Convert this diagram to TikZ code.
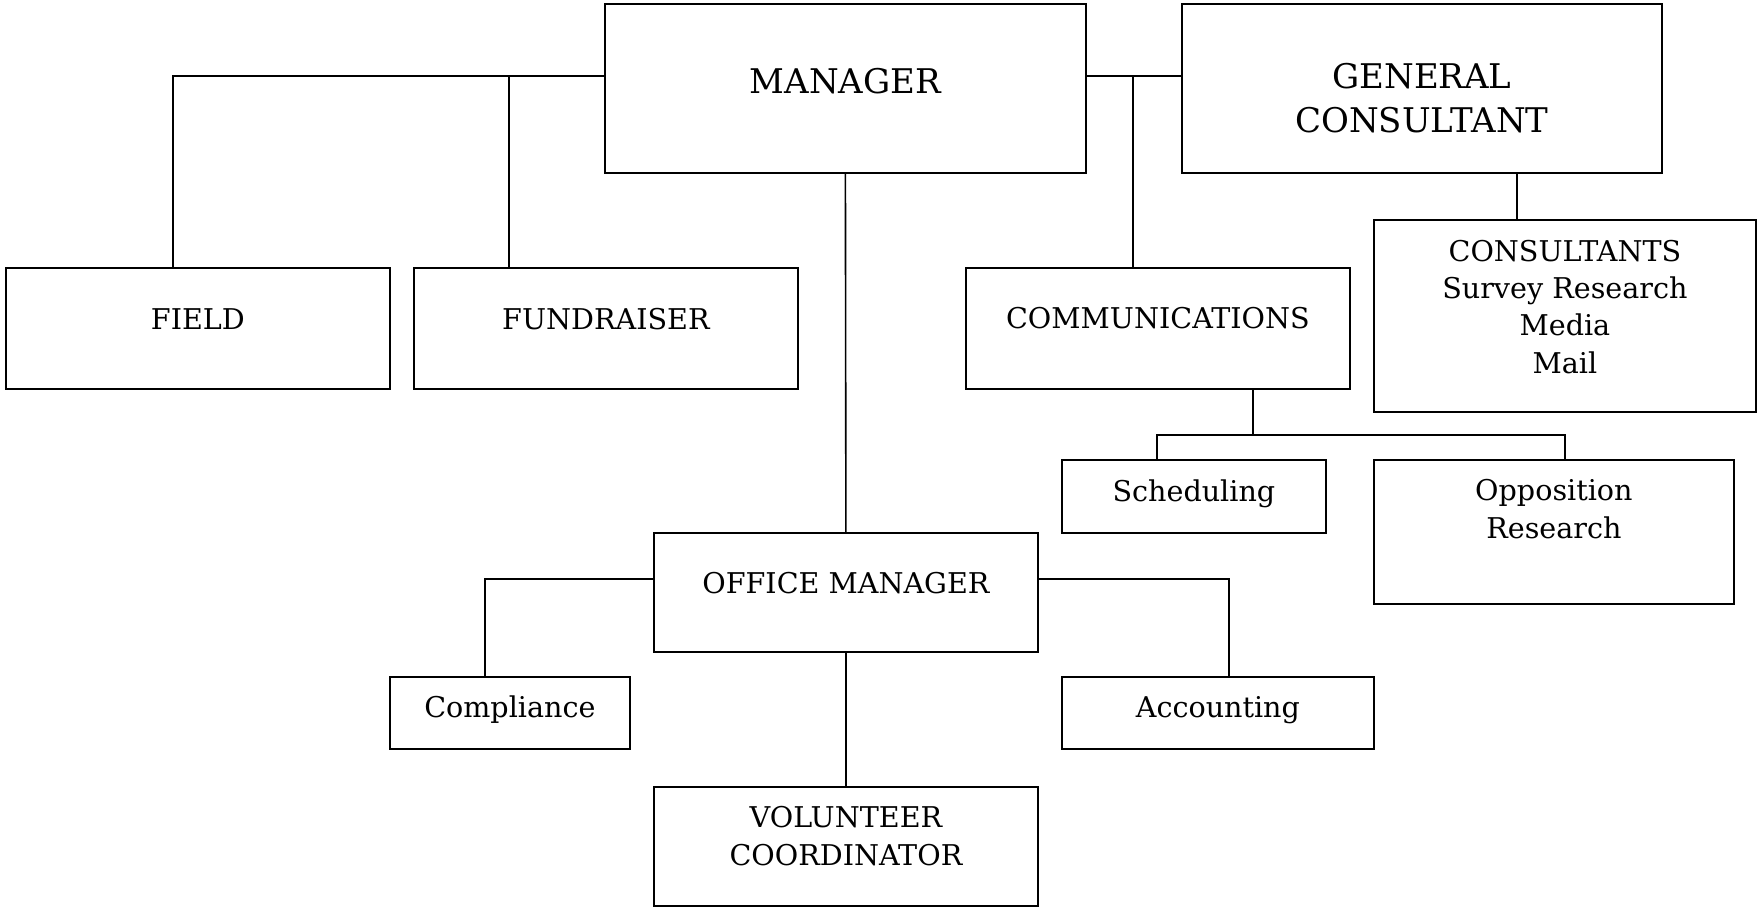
\documentclass[tikz,border=0pt]{standalone}
\usepackage{fontspec}
\setmainfont{DejaVu Serif}
\usetikzlibrary{calc}
\begin{document}
\begin{tikzpicture}[x=1pt,y=-1pt,
  unit/.style={draw=black, line width=1.8pt, fill=white, inner sep=0pt, anchor=north west},
  link/.style={draw=black, line width=1.6pt},
  txt/.style={inner sep=0pt, anchor=base, align=center, font=\fontsize{28.6}{37.4}\selectfont},
  bigtxt/.style={inner sep=0pt, anchor=base, align=center, font=\fontsize{34}{44}\selectfont}]
\useasboundingbox (0,0) rectangle (1757,907);

% boxes
\node[unit, minimum width=481pt, minimum height=169pt] (manager) at (604,3) {};
\node[unit, minimum width=480pt, minimum height=169pt] (general) at (1181,3) {};
\node[unit, minimum width=384pt, minimum height=121pt] (field) at (5,267) {};
\node[unit, minimum width=384pt, minimum height=121pt] (fund) at (413,267) {};
\node[unit, minimum width=384pt, minimum height=121pt] (comm) at (965,267) {};
\node[unit, minimum width=382pt, minimum height=192pt] (cons) at (1373,219) {};
\node[unit, minimum width=264pt, minimum height=73pt] (sched) at (1061,459) {};
\node[unit, minimum width=360pt, minimum height=144pt] (opp) at (1373,459) {};
\node[unit, minimum width=384pt, minimum height=119pt] (office) at (653,532) {};
\node[unit, minimum width=240pt, minimum height=72pt] (compl) at (389,676) {};
\node[unit, minimum width=312pt, minimum height=72pt] (acct) at (1061,676) {};
\node[unit, minimum width=384pt, minimum height=119pt] (vol) at (653,786) {};

% labels (anchored at the baseline of their last line)
\node[bigtxt] (manager-t) at ($(manager.north)+(0,91)$) {MANAGER};
\node[bigtxt] (general-t) at ($(general.north)+(0,129.3)$) {GENERAL\\CONSULTANT};
\node[txt] (field-t) at ($(field.north)+(0,62)$) {FIELD};
\node[txt] (fund-t) at ($(fund.north)+(0,62)$) {FUNDRAISER};
\node[txt] (comm-t) at ($(comm.north)+(0,61)$) {COMMUNICATIONS};
\node[txt] (cons-t) at ($(cons.north)+(0,154.3)$) {CONSULTANTS\\Survey Research\\Media\\Mail};
\node[txt] (sched-t) at ($(sched.north)+(0,42)$) {Scheduling};
\node[txt] (opp-t) at ($(opp.north)+(0,79)$) {Opposition\\Research};
\node[txt] (office-t) at ($(office.north)+(0,61)$) {OFFICE MANAGER};
\node[txt] (compl-t) at ($(compl.north)+(0,41)$) {Compliance};
\node[txt] (acct-t) at ($(acct.north)+(0,41)$) {Accounting};
\node[txt] (vol-t) at ($(vol.north)+(0,79)$) {VOLUNTEER\\COORDINATOR};

% junction points of the connectors
\coordinate (jL) at (173,76);
\coordinate (jF) at (509,76);
\coordinate (jC) at (1133,76);
\coordinate (jG) at (1517,0);
\coordinate (jBar) at (1253,435);
\coordinate (jS) at (1157,435);
\coordinate (jO) at (1565,435);
\coordinate (jOL) at (485,579);
\coordinate (jOR) at (1229,579);

% connectors
\draw[link] (manager.west |- jL) -| (jL |- field.north);
\draw[link] (jF) -- (jF |- fund.north);
\draw[link] (manager.east |- jC) -- (general.west |- jC);
\draw[link] (jC) -- (jC |- comm.north);
\draw[link] (manager.south) -- (office.north);
\draw[link] (jG |- general.south) -- (jG |- cons.north);
\draw[link] (jBar |- comm.south) -- (jBar);
\draw[link] (jS |- sched.north) -- (jS) -- (jO) -- (jO |- opp.north);
\draw[link] (office.west |- jOL) -| (jOL |- compl.north);
\draw[link] (office.east |- jOR) -| (jOR |- acct.north);
\draw[link] (office.south) -- (vol.north);
\end{tikzpicture}
\end{document}
